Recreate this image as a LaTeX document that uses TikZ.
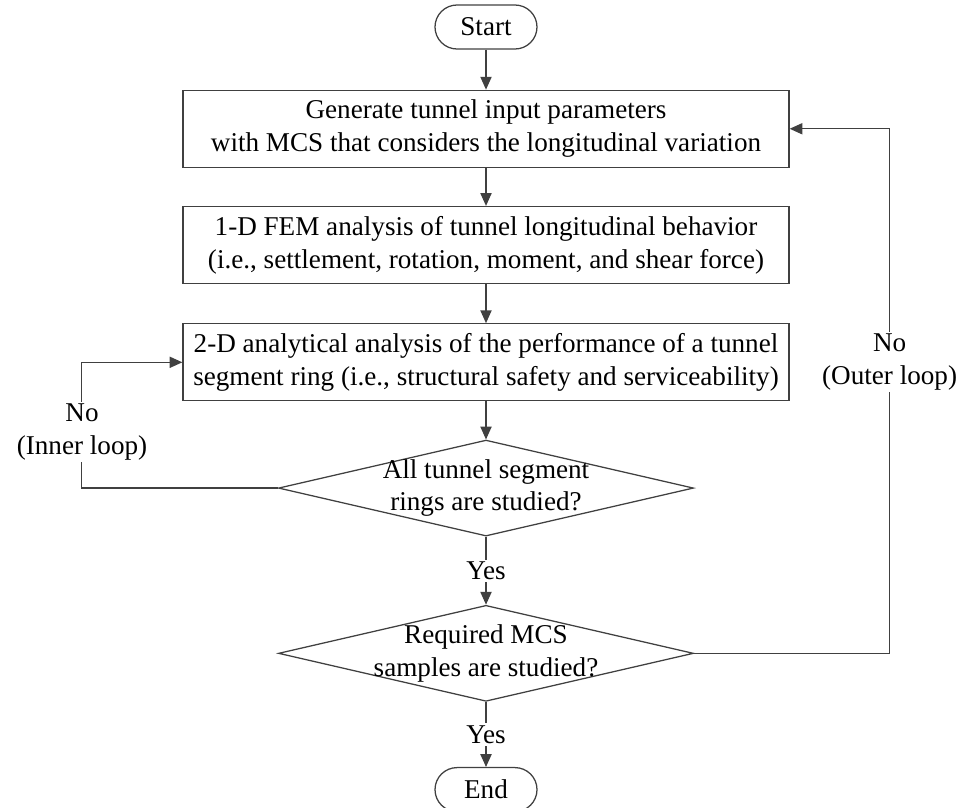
\documentclass[tikz,border=0pt]{standalone}
\usepackage{fontspec}
\setmainfont{Liberation Serif}
\usetikzlibrary{positioning,shapes.geometric,arrows.meta}
\definecolor{linegray}{HTML}{404040}

\begin{document}
\begin{tikzpicture}[
            font=\fontsize{19.3}{23.2}\selectfont,
            every node/.style={align=center},
            term/.style={draw=linegray,line width=0.9pt,rounded corners=0.55cm,minimum width=2.55cm,minimum height=1.1cm,inner sep=0pt},
            block/.style={draw=linegray,line width=0.9pt,minimum width=15.15cm,minimum height=1.925cm,inner sep=2pt},
            decision/.style={draw=linegray,line width=0.9pt,diamond,minimum width=10.375cm,minimum height=2.4cm,inner sep=0pt},
            flow/.style={draw=linegray,line width=0.9pt,-{Triangle[length=0.32cm,width=0.28cm]}},
            edgelabel/.style={fill=white,inner sep=1.5pt},
        ]
            \useasboundingbox (0,0) rectangle (24.025,-20.175);
            \node[term] (start) at (12.15,-0.675) {Start};
            \node[block,below=1cm of start] (gen) {Generate tunnel input parameters\\with MCS that considers the longitudinal variation};
            \node[block,below=0.95cm of gen] (fem) {1-D FEM analysis of tunnel longitudinal behavior\\(i.e., settlement, rotation, moment, and shear force)};
            \node[block,below=0.975cm of fem] (ring) {2-D analytical analysis of the performance of a tunnel\\segment ring (i.e., structural safety and serviceability)};
            \node[decision,below=0.95cm of ring] (rings) {};
            \node (ringstext) at (rings) {All tunnel segment\\rings are studied?};
            \node[decision,below=1.7cm of rings] (samples) {};
            \node (samplestext) at (samples) {Required MCS\\samples are studied?};
            \node[term,below=1.625cm of samples] (end) {End};

            \draw[flow] (start) -- (gen);
            \draw[flow] (gen) -- (fem);
            \draw[flow] (fem) -- (ring);
            \draw[flow] (ring) -- (rings);
            \draw[flow] (rings) -- node[edgelabel] (yes1) {Yes} (samples);
            \draw[flow] (samples) -- node[edgelabel] (yes2) {Yes} (end);
            \draw[flow] (rings.west) -| ([xshift=-2.525cm]ring.west) -- (ring.west);
            \draw[flow] (samples.east) -| ([xshift=2.5cm]gen.east) -- (gen.east);
            \node[edgelabel] (inner) at (2.05,-10.8) {No\\(Inner loop)};
            \node[edgelabel] (outer) at ([xshift=2.5cm]ring.east) {No\\(Outer loop)};
        \end{tikzpicture}
\end{document}
